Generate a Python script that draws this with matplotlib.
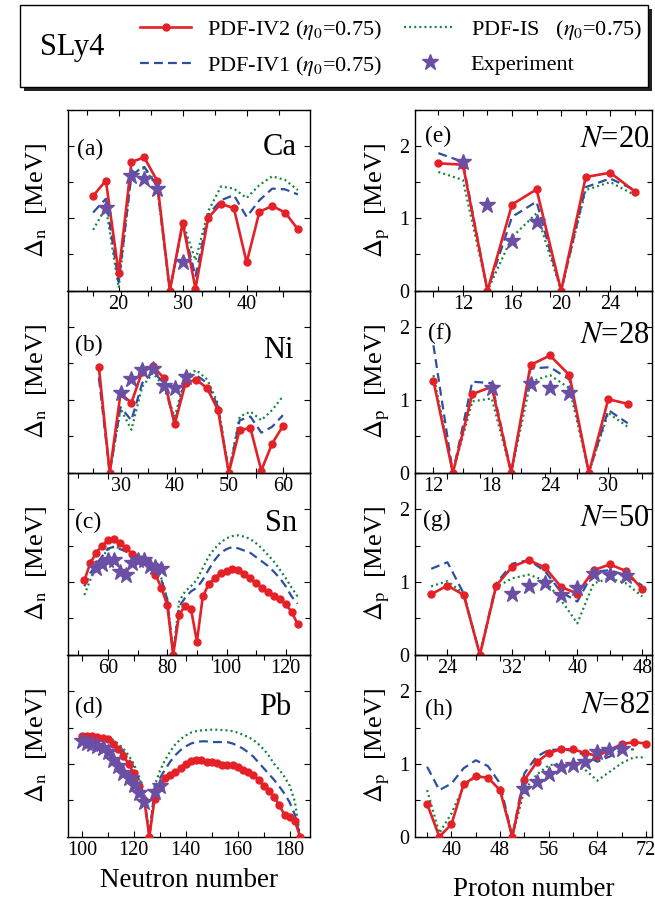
import matplotlib
matplotlib.use('Agg')
import matplotlib.pyplot as plt
from matplotlib.lines import Line2D
from matplotlib.patches import Rectangle
from matplotlib.ticker import MultipleLocator

plt.rcParams['font.family'] = ['Liberation Serif', 'DejaVu Serif']
plt.rcParams['mathtext.fontset'] = 'stix'

RED = '#e52128'
BLUE = '#2d4fa3'
GREEN = '#15863c'
PURPLE = '#6a4fa5'

# ---------------- data ----------------
# (a) Ca isotopes
ca_n = [16, 18, 20, 22, 24, 26, 28, 30, 32, 34, 36, 38, 40, 42, 44, 46, 48]
ca_iv2 = [1.31, 1.52, 0.24, 1.78, 1.84, 1.52, 0.0, 0.94, 0.03, 1.01, 1.20, 1.14, 0.39, 1.09, 1.17, 1.08, 0.85]
ca_iv1 = [1.08, 1.27, 0.12, 1.60, 1.71, 1.45, 0.0, 0.92, 0.20, 1.05, 1.25, 1.32, 1.02, 1.25, 1.41, 1.40, 1.33]
ca_is = [0.84, 1.15, 0.04, 1.64, 1.69, 1.44, 0.0, 0.95, 0.42, 1.10, 1.44, 1.41, 1.28, 1.46, 1.58, 1.53, 1.39]
ca_exp_n = [18, 22, 24, 26, 30]
ca_exp = [1.14, 1.58, 1.54, 1.41, 0.39]

# (b) Ni isotopes
ni_n = [26, 28, 30, 32, 34, 36, 38, 40, 42, 44, 46, 48, 50, 52, 54, 56, 58, 60]
ni_iv2 = [1.45, 0.0, 1.09, 0.96, 1.39, 1.46, 1.30, 0.665, 1.23, 1.28, 1.16, 0.86, 0.0, 0.59, 0.61, 0.03, 0.40, 0.64]
ni_iv1 = [1.30, 0.0, 0.90, 0.72, 1.23, 1.39, 1.23, 0.68, 1.30, 1.34, 1.23, 0.91, 0.0, 0.72, 0.77, 0.55, 0.63, 0.79]
ni_is = [1.39, 0.0, 0.88, 0.59, 1.18, 1.37, 1.18, 0.77, 1.32, 1.41, 1.28, 0.95, 0.0, 0.77, 0.84, 0.72, 0.86, 1.05]
ni_exp_n = [30, 32, 34, 36, 38, 40, 42]
ni_exp = [1.09, 1.29, 1.41, 1.42, 1.19, 1.16, 1.32]

# (c) Sn isotopes
sn_n = [52, 54, 56, 58, 60, 62, 64, 66, 68, 70, 72, 74, 76, 78, 80, 82, 84, 86, 88,
        90, 92, 94, 96, 98, 100, 102, 104, 106, 108, 110, 112, 114, 116, 118, 120, 122, 124]
sn_iv2 = [1.02, 1.26, 1.40, 1.50, 1.57, 1.59, 1.54, 1.47, 1.39, 1.30, 1.29, 1.22, 1.10, 0.92, 0.68, 0.0,
          0.55, 0.67, 0.63, 0.18, 0.80, 0.97, 1.05, 1.12, 1.15, 1.18, 1.17, 1.11, 1.05, 0.98, 0.92,
          0.86, 0.81, 0.76, 0.69, 0.59, 0.42]
sn_iv1 = [0.94, 1.12, 1.24, 1.35, 1.46, 1.48, 1.45, 1.42, 1.38, 1.35, 1.32, 1.26, 1.21, 1.03, 0.76, 0.0,
          0.66, 0.78, 0.87, 0.92, 1.03, 1.17, 1.30, 1.40, 1.45, 1.48, 1.46, 1.43, 1.40, 1.34, 1.28,
          1.22, 1.14, 1.05, 0.94, 0.80, 0.70]
sn_is = [0.82, 1.03, 1.21, 1.35, 1.44, 1.49, 1.46, 1.43, 1.40, 1.36, 1.34, 1.28, 1.21, 1.05, 0.76, 0.02,
         0.73, 0.87, 0.94, 1.03, 1.19, 1.35, 1.46, 1.54, 1.60, 1.63, 1.64, 1.62, 1.59, 1.53, 1.46,
         1.37, 1.28, 1.17, 1.05, 0.92, 0.80]
sn_exp_n = [56, 58, 60, 62, 64, 66, 68, 70, 72, 74, 76, 78]
sn_exp = [1.19, 1.24, 1.30, 1.30, 1.13, 1.10, 1.26, 1.30, 1.30, 1.22, 1.21, 1.18]

# (d) Pb isotopes
pb_n = [100, 102, 104, 106, 108, 110, 112, 114, 116, 118, 120, 122, 124, 126, 128, 130, 132, 134,
        136, 138, 140, 142, 144, 146, 148, 150, 152, 154, 156, 158, 160, 162, 164, 166, 168, 170,
        172, 174, 176, 178, 180, 182, 184]
pb_iv2 = [1.39, 1.38, 1.38, 1.37, 1.36, 1.34, 1.28, 1.20, 1.11, 1.00, 0.87, 0.69, 0.51, 0.0, 0.52,
          0.68, 0.80, 0.85, 0.89, 0.94, 1.00, 1.04, 1.06, 1.05, 1.03, 1.02, 1.01, 0.99, 0.98, 0.98,
          0.96, 0.92, 0.89, 0.85, 0.78, 0.70, 0.63, 0.55, 0.43, 0.30, 0.27, 0.21, 0.0]
pb_iv1 = [1.33, 1.335, 1.34, 1.34, 1.34, 1.33, 1.30, 1.25, 1.17, 1.07, 0.95, 0.78, 0.55, 0.0, 0.65,
          0.80, 0.92, 1.03, 1.12, 1.19, 1.24, 1.28, 1.30, 1.31, 1.31, 1.30, 1.30, 1.30, 1.30, 1.28,
          1.25, 1.21, 1.16, 1.10, 1.02, 0.94, 0.86, 0.78, 0.69, 0.59, 0.47, 0.30, 0.0]
pb_is = [1.33, 1.35, 1.36, 1.37, 1.37, 1.36, 1.33, 1.28, 1.21, 1.12, 1.00, 0.83, 0.58, 0.0, 0.70,
         0.90, 1.05, 1.17, 1.27, 1.34, 1.39, 1.43, 1.45, 1.46, 1.465, 1.47, 1.47, 1.465, 1.46, 1.45,
         1.43, 1.40, 1.37, 1.33, 1.27, 1.20, 1.11, 1.00, 0.92, 0.82, 0.70, 0.48, 0.0]
pb_exp_n = [100, 102, 104, 106, 108, 110, 112, 114, 116, 118, 120, 122, 124, 128, 130]
pb_exp = [1.31, 1.29, 1.27, 1.25, 1.22, 1.16, 1.06, 0.97, 0.88, 0.80, 0.71, 0.60, 0.48, 0.62, 0.69]

# (e) N=20 isotones
n20_z = [10, 12, 14, 16, 18, 20, 22, 24, 26]
n20_iv2 = [1.76, 1.74, 0.0, 1.19, 1.40, 0.0, 1.57, 1.63, 1.37]
n20_iv1 = [1.90, 1.78, 0.0, 1.02, 1.23, 0.0, 1.43, 1.55, 1.39]
n20_is = [1.64, 1.53, 0.0, 0.74, 1.07, 0.0, 1.39, 1.50, 1.32]
n20_exp_z = [12, 14, 16, 18]
n20_exp = [1.78, 1.19, 0.69, 0.95]

# (f) N=28 isotones
n28_z = [12, 14, 16, 18, 20, 22, 24, 26, 28, 30, 32]
n28_iv2 = [1.26, 0.0, 1.08, 1.18, 0.0, 1.48, 1.61, 1.34, 0.0, 1.01, 0.945]
n28_iv1 = [1.75, 0.0, 1.25, 1.23, 0.0, 1.43, 1.45, 1.28, 0.0, 0.86, 0.68]
n28_is = [1.34, 0.0, 0.98, 1.02, 0.0, 1.25, 1.34, 1.16, 0.0, 0.82, 0.63]
n28_exp_z = [18, 22, 24, 26]
n28_exp = [1.17, 1.22, 1.17, 1.10]

# (g) N=50 isotones
n50_z = [22, 24, 26, 28, 30, 32, 34, 36, 38, 40, 42, 44, 46, 48]
n50_iv2 = [0.83, 0.95, 0.82, 0.0, 0.95, 1.21, 1.30, 1.20, 0.93, 0.84, 1.16, 1.24, 1.15, 0.90]
n50_iv1 = [1.18, 1.27, 0.84, 0.0, 0.98, 1.25, 1.30, 1.15, 0.86, 0.73, 1.14, 1.16, 1.09, 0.95]
n50_is = [0.94, 1.01, 0.84, 0.0, 0.93, 1.05, 1.10, 1.02, 0.75, 0.43, 0.98, 1.05, 0.98, 0.80]
n50_exp_z = [32, 34, 36, 38, 40, 42, 44, 46]
n50_exp = [0.83, 0.95, 0.99, 0.82, 0.92, 1.11, 1.09, 1.08]

# (h) N=82 isotones
n82_z = [36, 38, 40, 42, 44, 46, 48, 50, 52, 54, 56, 58, 60, 62, 64, 66, 68, 70, 72]
n82_iv2 = [0.45, 0.0, 0.17, 0.72, 0.83, 0.81, 0.64, 0.0, 0.78, 1.02, 1.15, 1.20, 1.20, 1.15, 1.11,
           1.19, 1.27, 1.30, 1.28]
n82_iv1_z = [36, 38, 40, 42, 44, 46, 48, 50, 52, 54, 56, 58, 60, 62, 64, 66, 68, 70]
n82_iv1 = [0.96, 0.64, 0.73, 0.94, 1.05, 0.97, 0.73, 0.0, 0.87, 1.10, 1.19, 1.20, 1.18, 1.12, 1.03,
           1.10, 1.19, 1.20]
n82_is = [0.64, 0.05, 0.32, 0.69, 0.83, 0.81, 0.64, 0.0, 0.64, 0.85, 0.98, 1.01, 0.97, 0.92, 0.77,
          0.89, 1.01, 1.09, 1.09]
n82_exp_z = [52, 54, 56, 58, 60, 62, 64, 66, 68]
n82_exp = [0.66, 0.755, 0.86, 0.96, 0.99, 1.02, 1.16, 1.19, 1.20]

legend_labels = [r'PDF-IV2 ($\eta_0$=0.75)', r'PDF-IV1 ($\eta_0$=0.75)',
                 r'PDF-IS   ($\eta_0$=0.75)', 'Experiment']

# ---------------- figure ----------------
W, H = 655, 902
fig = plt.figure(figsize=(W / 100, H / 100), dpi=100)


def px_axes(x0, y0, x1, y1):
    return fig.add_axes([x0 / W, 1 - y1 / H, (x1 - x0) / W, (y1 - y0) / H])


rows = [(109.7, 290.7), (290.7, 472.7), (472.7, 654.7), (654.7, 836.7)]
LX = (67.5, 310.0)
RX = (415.0, 652.0)

LW = 1.6
RLW = 1.9
DASH = (0, (4, 2.3))
DOT = (0, (0.9, 1.4))


def style(ax, xlim, major, minor, ylabels):
    ax.set_xlim(*xlim)
    ax.set_ylim(0, 2.5)
    ax.xaxis.set_major_locator(MultipleLocator(major))
    ax.xaxis.set_minor_locator(MultipleLocator(minor))
    ax.yaxis.set_major_locator(MultipleLocator(1))
    ax.yaxis.set_minor_locator(MultipleLocator(0.5))
    ax.tick_params(which='both', direction='in', top=True, right=True,
                   labelsize=14.5, width=0.8)
    ax.tick_params(which='major', length=4.5)
    ax.tick_params(which='minor', length=3.5)
    ax.tick_params(axis='x', pad=3)
    ax.tick_params(axis='y', pad=4)
    if not ylabels:
        ax.tick_params(axis='y', labelleft=False)
    ax.patch.set_visible(False)
    for s in ax.spines.values():
        s.set_linewidth(1.0)


def draw(ax, x, iv2, x1, iv1, xs, isv, xe, ex):
    ax.plot(xs, isv, color=GREEN, lw=LW, ls=DOT, zorder=2)
    ax.plot(x1, iv1, color=BLUE, lw=LW, ls=DASH, zorder=3)
    ax.plot(x, iv2, color=RED, lw=RLW, marker='o', ms=5, zorder=4)
    ax.plot(xe, ex, ls='none', marker='*', ms=12, color=PURPLE, mec=PURPLE, zorder=5)


left_panels = [
    (ca_n, ca_iv2, ca_iv1, ca_is, ca_exp_n, ca_exp, (12, 49.9), 10, 5, '(a)', 'Ca', (0.038, 0.78), (0.947, 0.79)),
    (ni_n, ni_iv2, ni_iv1, ni_is, ni_exp_n, ni_exp, (20.2, 65), 10, 5, '(b)', 'Ni', (0.031, 0.70), (0.931, 0.67)),
    (sn_n, sn_iv2, sn_iv1, sn_is, sn_exp_n, sn_exp, (46.3, 128.2), 20, 10, '(c)', 'Sn', (0.031, 0.727), (0.945, 0.72)),
    (pb_n, pb_iv2, pb_iv1, pb_is, pb_exp_n, pb_exp, (94.5, 187.8), 20, 10, '(d)', 'Pb', (0.031, 0.71), (0.925, 0.71)),
]

right_panels = [
    (n20_z, n20_iv2, n20_z, n20_iv1, n20_z, n20_is, n20_exp_z, n20_exp, (8.1, 27.4), 4, 2, '(e)', r'$N$=20', (0.042, 0.85), (0.99, 0.835)),
    (n28_z, n28_iv2, n28_z, n28_iv1, n28_z, n28_is, n28_exp_z, n28_exp, (10.1, 34.5), 6, 3, '(f)', r'$N$=28', (0.055, 0.766), (0.99, 0.753)),
    (n50_z, n50_iv2, n50_z, n50_iv1, n50_z, n50_is, n50_exp_z, n50_exp, (20, 49.2), 8, 4, '(g)', r'$N$=50', (0.034, 0.736), (0.99, 0.75)),
    (n82_z, n82_iv2, n82_iv1_z, n82_iv1, n82_z, n82_is, n82_exp_z, n82_exp, (34, 73), 8, 4, '(h)', r'$N$=82', (0.042, 0.70), (0.99, 0.72)),
]

for i, p in enumerate(left_panels):
    x, iv2, iv1, isv, xe, ex, xlim, mj, mn, tag, name, tpos, npos = p
    ax = px_axes(LX[0], rows[i][0], LX[1], rows[i][1])
    style(ax, xlim, mj, mn, False)
    draw(ax, x, iv2, x, iv1, x, isv, xe, ex)
    ax.text(tpos[0], tpos[1], tag, transform=ax.transAxes, fontsize=17, ha='left', va='center')
    ax.text(npos[0], npos[1], name, transform=ax.transAxes, fontsize=22, ha='right', va='center')
    ax.set_ylabel(r'$\Delta_\mathrm{n}$  [MeV]', fontsize=19)
    ax.yaxis.set_label_coords(-0.075, 0.5)
    if i == 3:
        ax.set_xlabel('Neutron number', fontsize=19.5, labelpad=6)

for i, p in enumerate(right_panels):
    x, iv2, x1, iv1, xs, isv, xe, ex, xlim, mj, mn, tag, name, tpos, npos = p
    ax = px_axes(RX[0], rows[i][0], RX[1], rows[i][1])
    style(ax, xlim, mj, mn, True)
    draw(ax, x, iv2, x1, iv1, xs, isv, xe, ex)
    ax.text(tpos[0], tpos[1], tag, transform=ax.transAxes, fontsize=17, ha='left', va='center')
    ax.text(npos[0], npos[1], name, transform=ax.transAxes, fontsize=22, ha='right', va='center')
    ax.set_ylabel(r'$\Delta_\mathrm{p}$  [MeV]', fontsize=19)
    ax.yaxis.set_label_coords(-0.095, 0.5)
    if i == 3:
        ax.set_xlabel('Proton number', fontsize=19.5, labelpad=12)

# ---------------- legend box ----------------
shadow = Rectangle((24 / W, 1 - 91 / H), 628 / W, 82 / H, transform=fig.transFigure,
                   facecolor='#222222', edgecolor='none', zorder=0)
box = Rectangle((20 / W, 1 - 87 / H), 628 / W, 82 / H, transform=fig.transFigure,
                facecolor='white', edgecolor='black', lw=1.0, zorder=1)
fig.add_artist(shadow)
fig.add_artist(box)
fig.text(40 / W, 1 - 48 / H, 'SLy4', fontsize=22, ha='left', va='center', zorder=2)

handles = [
    Line2D([], [], color=RED, lw=RLW, marker='o', ms=5),
    Line2D([], [], color=BLUE, lw=LW, ls=DASH),
    Line2D([], [], color=GREEN, lw=LW, ls=DOT),
    Line2D([], [], ls='none', marker='*', ms=12, color=PURPLE),
]
fig.legend(handles, legend_labels, ncol=2, loc='upper left',
           bbox_to_anchor=(140 / W, 1 - 18 / H), frameon=False, fontsize=16,
           handlelength=2.3, handletextpad=0.7, columnspacing=1.0, labelspacing=0.55,
           borderpad=0, borderaxespad=0, numpoints=1)

fig.savefig('out.png', dpi=100)
